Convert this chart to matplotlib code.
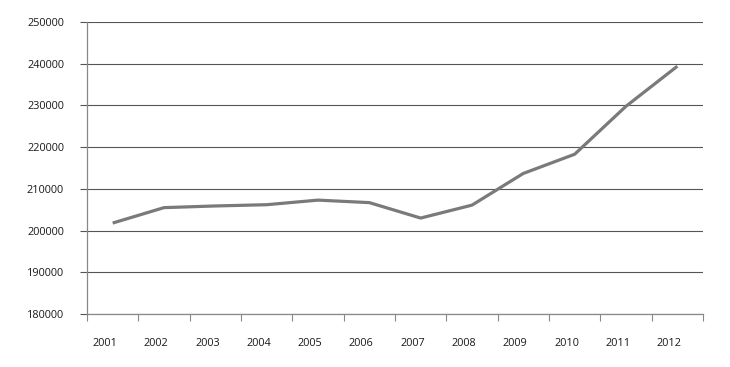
import matplotlib
matplotlib.use("Agg")
import matplotlib.pyplot as plt
import matplotlib.transforms as mtransforms
import numpy as np

years = ["2001", "2002", "2003", "2004", "2005", "2006",
         "2007", "2008", "2009", "2010", "2011", "2012"]
values = [201800, 205500, 205900, 206200, 207300, 206700,
          203000, 206100, 213700, 218300, 229800, 239400]
yticks = [180000, 190000, 200000, 210000, 220000, 230000, 240000, 250000]

plt.rcParams['font.family'] = ['Open Sans', 'DejaVu Sans']

fig = plt.figure(figsize=(7.3, 3.67), dpi=100)
ax = fig.add_axes([87/730, 1 - 314/367, (703 - 87)/730, (314 - 22)/367])

x = np.arange(len(years))
ax.plot(x, values, color="#7a7a7a", lw=2.3, solid_capstyle="butt", zorder=3)

ax.set_xlim(-0.5, len(years) - 0.5)
ax.set_ylim(yticks[0], yticks[-1])
ax.set_yticks(yticks)
ax.set_yticklabels([str(v) for v in yticks])
ax.yaxis.grid(True, color="#555555", lw=0.8)
ax.set_axisbelow(True)

ax.set_xticks(x)
ax.set_xticklabels(years)
ax.set_xticks(np.arange(len(years) + 1) - 0.5, minor=True)
ax.tick_params(axis="x", which="major", length=0, pad=17, labelsize=7.8, colors="#1a1a1a")
ax.tick_params(axis="x", which="minor", length=5, width=0.8, color="#888888", direction="out")
ax.tick_params(axis="y", length=5, width=0.8, color="#555555", pad=11.5, labelsize=7.8, labelcolor="#1a1a1a")

offset = mtransforms.ScaledTranslation(-8/100, 0, fig.dpi_scale_trans)
for lbl in ax.get_xticklabels():
    lbl.set_transform(lbl.get_transform() + offset)

for s in ["top", "right"]:
    ax.spines[s].set_visible(False)
ax.spines["left"].set_color("#888888")
ax.spines["left"].set_linewidth(0.9)
ax.spines["bottom"].set_color("#888888")
ax.spines["bottom"].set_linewidth(0.9)

fig.savefig("out.png", dpi=100)
